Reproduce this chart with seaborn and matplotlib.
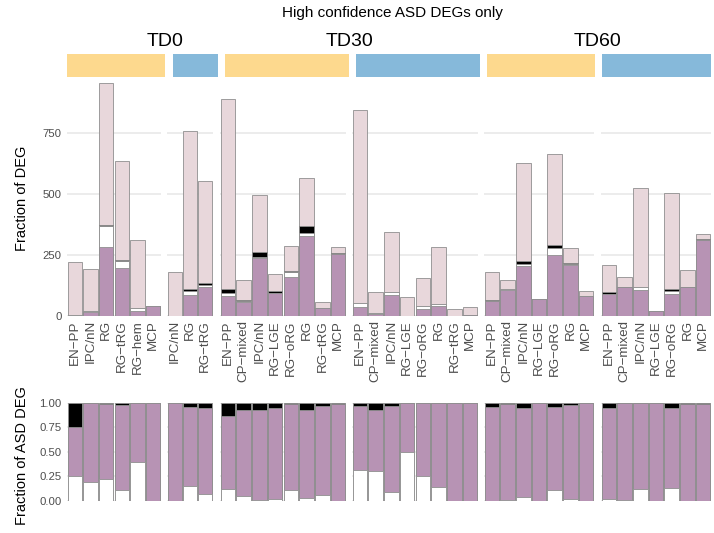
import matplotlib
matplotlib.use("Agg")
import matplotlib.pyplot as plt
import pandas as pd
import seaborn as sns

# counts per bar (bottom -> top: purple, white, black, pink)
td0_up_cells = ["EN-PP", "IPC/nN", "RG", "RG-tRG", "RG-hem", "MCP"]
td0_up_purple = [2, 17, 284, 198, 20, 42]
td0_up_white = [1, 4, 85, 27, 13, 0]
td0_up_black = [1, 0, 6, 6, 0, 0]
td0_up_pink = [219, 172, 581, 404, 277, 0]

td0_down_cells = ["IPC/nN", "RG", "RG-tRG"]
td0_down_purple = [1, 87, 118]
td0_down_white = [0, 17, 10]
td0_down_black = [0, 5, 8]
td0_down_pink = [178, 651, 419]

td30_up_cells = ["EN-PP", "CP-mixed", "IPC/nN", "RG-LGE", "RG-oRG", "RG", "RG-tRG", "MCP"]
td30_up_purple = [82, 57, 239, 94, 160, 327, 31, 254]
td30_up_white = [13, 3, 4, 2, 20, 13, 2, 0]
td30_up_black = [15, 5, 20, 5, 3, 29, 1, 3]
td30_up_pink = [782, 84, 232, 71, 104, 198, 23, 27]

td30_down_cells = ["EN-PP", "CP-mixed", "IPC/nN", "RG-LGE", "RG-oRG", "RG", "RG-tRG", "MCP"]
td30_down_purple = [35, 8, 88, 1, 30, 42, 2, 3]
td30_down_white = [17, 4, 9, 1, 10, 7, 0, 0]
td30_down_black = [2, 1, 3, 0, 0, 0, 0, 0]
td30_down_pink = [793, 85, 243, 74, 118, 236, 27, 33]

td60_up_cells = ["EN-PP", "CP-mixed", "IPC/nN", "RG-LGE", "RG-oRG", "RG", "MCP"]
td60_up_purple = [62, 108, 204, 70, 249, 209, 82]
td60_up_white = [0, 1, 9, 0, 32, 4, 0]
td60_up_black = [3, 2, 11, 0, 12, 5, 0]
td60_up_pink = [117, 36, 404, 0, 370, 62, 19]

td60_down_cells = ["EN-PP", "CP-mixed", "IPC/nN", "RG-LGE", "RG-oRG", "RG", "MCP"]
td60_down_purple = [90, 119, 105, 22, 89, 117, 312]
td60_down_white = [2, 1, 15, 0, 15, 0, 1]
td60_down_black = [5, 0, 0, 0, 6, 1, 4]
td60_down_pink = [111, 40, 407, 0, 395, 69, 18]

timepoints = ["TD0", "TD30", "TD60"]

PURPLE = "#b793b4"
PINK = "#e8d7db"
YELLOW = "#fdd98e"
BLUE = "#86b9da"
EDGE = "#8f8f8f"
GRID = "#ebebeb"
TICK = "#4d4d4d"

W, H = 714, 533

plt.rcParams["font.family"] = ["Liberation Sans", "DejaVu Sans"]


def px_axes(fig, x0, x1, y_top, y_bottom):
    return fig.add_axes([x0 / W, 1 - y_bottom / H, (x1 - x0) / W, (y_bottom - y_top) / H])


def build_frame(cells, purple, white, black, pink):
    df = pd.DataFrame({"cell": cells, "purple": purple, "white": white,
                       "black": black, "pink": pink})
    df["a"] = df["purple"]
    df["ab"] = df["a"] + df["white"]
    df["abc"] = df["ab"] + df["black"]
    df["total"] = df["abc"] + df["pink"]
    n = df["abc"].where(df["abc"] > 0, 1)
    df["f_w"] = df["white"] / n
    df["f_wp"] = (df["white"] + df["purple"]) / n
    df["f_all"] = 1.0
    return df


def stacked(ax, df, cols, colors):
    for col, color in zip(cols, colors):
        sns.barplot(data=df, x="cell", y=col, color=color, saturation=1,
                    width=0.93, edgecolor=EDGE, linewidth=0.6,
                    errorbar=None, ax=ax)


def style(ax, n, ymax, ticks, ticklabels, show_y):
    ax.set_xlim(-0.5, n - 0.5)
    ax.set_ylim(0, ymax)
    ax.set_yticks(ticks)
    ax.set_yticklabels(ticklabels if show_y else [])
    ax.grid(axis="y", color=GRID, linewidth=1.3)
    ax.grid(axis="x", visible=False)
    ax.set_axisbelow(True)
    for s in ax.spines.values():
        s.set_visible(False)
    ax.tick_params(length=0, labelsize=8.2, labelcolor=TICK, pad=4)
    ax.set_xlabel("")
    ax.set_ylabel("")


panels = [
    (td0_up_cells, td0_up_purple, td0_up_white, td0_up_black, td0_up_pink),
    (td0_down_cells, td0_down_purple, td0_down_white, td0_down_black, td0_down_pink),
    (td30_up_cells, td30_up_purple, td30_up_white, td30_up_black, td30_up_pink),
    (td30_down_cells, td30_down_purple, td30_down_white, td30_down_black, td30_down_pink),
    (td60_up_cells, td60_up_purple, td60_up_white, td60_up_black, td60_up_pink),
    (td60_down_cells, td60_down_purple, td60_down_white, td60_down_black, td60_down_pink),
]
panel_x = [(67, 161), (167, 213), (220, 346), (352, 478), (484, 594), (601, 711)]
strip_x = [(67, 165), (173, 218), (225, 349), (356, 480), (487, 595), (602, 711)]
strip_colors = [YELLOW, BLUE] * 3

fig = plt.figure(figsize=(W / 100, H / 100), dpi=100)

for i, (cells, purple, white, black, pink) in enumerate(panels):
    df = build_frame(cells, purple, white, black, pink)
    x0, x1 = panel_x[i]
    n = len(cells)

    # counts
    ax = px_axes(fig, x0, x1, 78, 316)
    stacked(ax, df, ["total", "abc", "ab", "a"], [PINK, "black", "white", PURPLE])
    style(ax, n, 977, [0, 250, 500, 750], ["0", "250", "500", "750"], i == 0)
    ax.set_xticks(range(n))
    ax.set_xticklabels([c.replace("-", "\u2212") for c in cells], rotation=90,
                       fontsize=9.6)
    ax.tick_params(axis="x", pad=3)

    # fractions
    ax2 = px_axes(fig, x0, x1, 402.7, 501)
    stacked(ax2, df, ["f_all", "f_wp", "f_w"], ["black", PURPLE, "white"])
    style(ax2, n, 1.0, [0, 0.25, 0.5, 0.75, 1.0],
          ["0.00", "0.25", "0.50", "0.75", "1.00"], i == 0)
    ax2.set_xticks([])

    # coloured strip above the panel
    sx0, sx1 = strip_x[i]
    sax = px_axes(fig, sx0, sx1, 54, 77)
    sax.set_facecolor(strip_colors[i])
    sax.set_xticks([])
    sax.set_yticks([])
    for s in sax.spines.values():
        s.set_visible(False)

for tp, xc in zip(timepoints, [165, 349, 598]):
    fig.text(xc / W, 1 - 46.5 / H, tp, ha="center", va="baseline", fontsize=14)

fig.text(392.5 / W, 1 - 17.5 / H, "High confidence ASD DEGs only",
         ha="center", va="baseline", fontsize=11)
fig.text(22 / W, 1 - 198 / H, "Fraction of DEG", rotation=90,
         ha="center", va="center", fontsize=10.5)
fig.text(22 / W, 1 - 456 / H, "Fraction of ASD DEG", rotation=90,
         ha="center", va="center", fontsize=10.5)

fig.savefig("out.png", dpi=100)
